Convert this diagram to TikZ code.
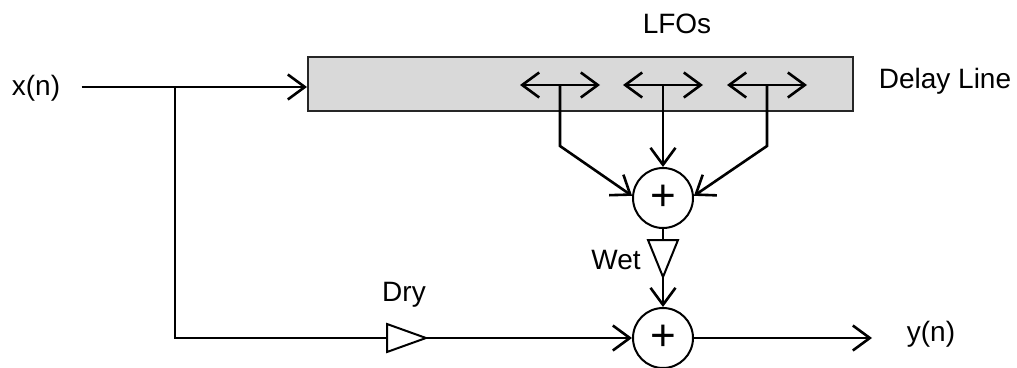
\documentclass[tikz,border=0pt]{standalone}
\usepackage{fontspec}
\setmainfont{Liberation Sans}
\usetikzlibrary{arrows.meta,positioning,calc}

\begin{document}
\begin{tikzpicture}[x=1pt,y=-1pt,
		font=\fontsize{28}{32}\selectfont,
		>={Straight Barb[length=17pt,width=25pt]},
		wire/.style={line width=2.6pt},
		gain/.style={draw,line width=2pt,line join=miter},
		sumnode/.style={circle,draw,line width=2pt,minimum size=60pt,inner sep=0pt,font=\fontsize{44}{46}\selectfont}]
		\useasboundingbox (0,0) rectangle (1017,367);
		\def \lfo{ 85 };
		\def \drop{ 61 };
		% labels
		\node (xin) at (36,88) {x(n)};
		\node (yout) at (931,334) {y(n)};
		\node (lfos) at (677,24) {LFOs};
		\node (dlabel) at (945,81) {Delay Line};
		\node (drylabel) at (404,295) {Dry};
		\node (wetlabel) at (616,260) {Wet};
		% delay line and summers
		\node[draw=black!85,line width=2pt,fill=black!15,minimum width=545pt,minimum height=54pt,inner sep=0pt] (delay) at (580.5,84) {};
		\node[sumnode] (sum1) at (663,198) {+};
		\node[sumnode] (sum2) at (663,338) {+};
		\coordinate (split) at (175,87);
		\coordinate (corner) at (175,338);
		\coordinate (dry) at (387,338);
		\coordinate (dryout) at (426,338);
		\coordinate (wet) at (663,240);
		\coordinate (wetout) at (663,277);
		\coordinate (yend) at (872,338);
		% moving taps
		\foreach \c/\n in {560/A,663/B,767/C} {
			\draw[wire,<->] (\c-40,\lfo) -- (\c+40,\lfo);
			\coordinate (tap\n) at (\c,\lfo);
		}
		\draw[wire,->] ([xshift=18pt]xin.east |- split) -- (delay.west |- split);
		\draw[wire] (split) -- (corner) -- (dry);
		\draw[gain] (dry) -- ++(0,-14) -- (dryout) -- ($(dry)+(0,14)$) -- cycle;
		\draw[wire,->] (dryout) -- (sum2.west);
		\draw[wire,->] (tapA) -- ++(0,\drop) -- (sum1.176);
		\draw[wire,->] (tapB) -- (sum1.north);
		\draw[wire,->] (tapC) -- ++(0,\drop) -- (sum1.4);
		\draw[wire] (sum1.south) -- (wet);
		\draw[gain] (wet) ++(-15,0) -- ++(30,0) -- (wetout) -- cycle;
		\draw[wire,->] (wetout) -- (sum2.north);
		\draw[wire,->] (sum2.east) -- (yend);
	\end{tikzpicture}
\end{document}
